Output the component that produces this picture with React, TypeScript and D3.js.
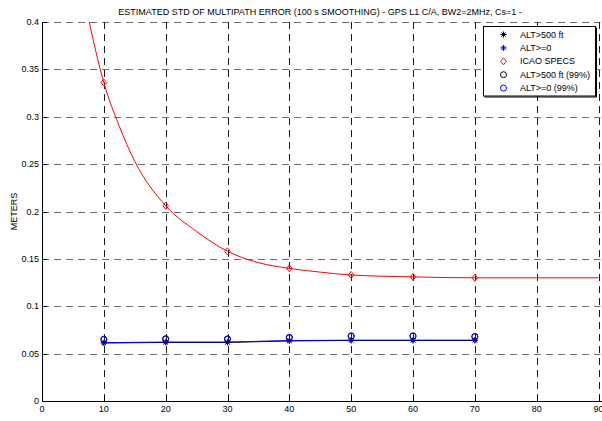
import React from "react";
import * as d3 from "d3";

const W = 602, H = 421;
const xTicks = [0, 10, 20, 30, 40, 50, 60, 70, 80, 90];
const yTicks = [0, 0.05, 0.1, 0.15, 0.2, 0.25, 0.3, 0.35, 0.4];
const yTickLabels = ["0", "0.05", "0.1", "0.15", "0.2", "0.25", "0.3", "0.35", "0.4"];

const elev = [10, 20, 30, 40, 50, 60, 70];
const icaoMarkers = [0.336, 0.206, 0.158, 0.140, 0.133, 0.131, 0.130];
// ICAO curve points
const icaoCurveX = [7.3, 10, 12.5, 15, 20, 25, 30, 35, 40, 45, 50, 60, 70, 80, 90];
const icaoCurveY = [0.41, 0.336, 0.290, 0.253, 0.206, 0.179, 0.158, 0.146, 0.140, 0.136, 0.133, 0.131, 0.130, 0.130, 0.130];
const alt500 = [0.0612, 0.0618, 0.0618, 0.0634, 0.0639, 0.0639, 0.0639];
const alt0 = [0.0616, 0.0622, 0.0622, 0.0638, 0.0642, 0.0642, 0.0642];
const alt500p99 = [0.0648, 0.0654, 0.0652, 0.0668, 0.0684, 0.0684, 0.0678];
const alt0p99 = [0.0652, 0.0658, 0.0656, 0.0672, 0.0688, 0.0688, 0.0682];

const legendItems = [
  { label: "ALT>500 ft", kind: "star", color: "#000" },
  { label: "ALT>=0", kind: "star", color: "#0000ff" },
  { label: "ICAO SPECS", kind: "diamond", color: "#ff0000" },
  { label: "ALT>500 ft (99%)", kind: "circle", color: "#000" },
  { label: "ALT>=0 (99%)", kind: "circle", color: "#0000ff" },
];

const FONT = "'Liberation Sans', Arial, sans-serif";

function Star({ x, y, color }: { x: number; y: number; color: string }) {
  const r = 3;
  const d = 2.1;
  return (
    <g stroke={color} strokeWidth={1}>
      <line x1={x - r} y1={y} x2={x + r} y2={y} />
      <line x1={x} y1={y - r} x2={x} y2={y + r} />
      <line x1={x - d} y1={y - d} x2={x + d} y2={y + d} />
      <line x1={x - d} y1={y + d} x2={x + d} y2={y - d} />
    </g>
  );
}

function Diamond({ x, y, color }: { x: number; y: number; color: string }) {
  const r = 3.5;
  return (
    <path
      d={`M${x},${y - r}L${x + r * 0.8},${y}L${x},${y + r}L${x - r * 0.8},${y}Z`}
      fill="none"
      stroke={color}
      strokeWidth={1}
    />
  );
}

function Circle({ x, y, color }: { x: number; y: number; color: string }) {
  return <circle cx={x} cy={y} r={3} fill="none" stroke={color} strokeWidth={1} />;
}

function Marker({ kind, x, y, color }: { kind: string; x: number; y: number; color: string }) {
  if (kind === "star") return <Star x={x} y={y} color={color} />;
  if (kind === "diamond") return <Diamond x={x} y={y} color={color} />;
  return <Circle x={x} y={y} color={color} />;
}

export default function App() {
  const x0 = 42, x1 = 598.5, y0 = 401, y1 = 22;
  const x = d3.scaleLinear().domain([0, 90]).range([x0, x1]);
  const y = d3.scaleLinear().domain([0, 0.4]).range([y0, y1]);

  const icaoLine = d3
    .line<number>()
    .x((_, i) => x(icaoCurveX[i]))
    .y((d) => y(d))
    .curve(d3.curveMonotoneX)(icaoCurveY) as string;

  const seriesLine = (vals: number[]) =>
    d3
      .line<number>()
      .x((_, i) => x(elev[i]))
      .y((d) => y(d))(vals) as string;

  const legX = 483.5, legY = 26.5, legW = 112, legH = 69.5;

  return (
    <svg
      width={W}
      height={H}
      style={{ position: "absolute", left: 0, top: 0, background: "#fff" }}
      fontFamily={FONT}
    >
      <defs>
        <clipPath id="plotclip">
          <rect x={x0} y={y1} width={x1 - x0 + 2} height={y0 - y1} />
        </clipPath>
      </defs>
      <rect x={0} y={0} width={W} height={H} fill="#fff" />

      {/* grid */}
      {yTicks.map((t) => (
        <line
          key={"gy" + t}
          x1={x0}
          x2={x1 + 2}
          y1={Math.round(y(t)) + 0.5}
          y2={Math.round(y(t)) + 0.5}
          stroke="#6e6e6e"
          strokeWidth={1}
          strokeDasharray="7,5"
        />
      ))}
      {xTicks.slice(1).map((t) => (
        <line
          key={"gx" + t}
          x1={Math.round(x(t)) + 0.5}
          x2={Math.round(x(t)) + 0.5}
          y1={y1}
          y2={y0}
          stroke="#1a1a1a"
          strokeWidth={1}
          strokeDasharray="7,5"
        />
      ))}

      {/* axes */}
      <line x1={x0 + 0.5} x2={x0 + 0.5} y1={y1} y2={y0 + 0.5} stroke="#000" />
      <line x1={x0} x2={W} y1={y0 + 0.5} y2={y0 + 0.5} stroke="#000" />
      {yTicks.map((t) => (
        <line
          key={"ty" + t}
          x1={x0}
          x2={x0 + 5}
          y1={Math.round(y(t)) + 0.5}
          y2={Math.round(y(t)) + 0.5}
          stroke="#000"
        />
      ))}
      {xTicks.map((t) => (
        <line
          key={"tx" + t}
          x1={Math.round(x(t)) + 0.5}
          x2={Math.round(x(t)) + 0.5}
          y1={y0}
          y2={y0 - 5}
          stroke="#000"
        />
      ))}
      {yTicks.map((t, i) => (
        <text
          key={"ly" + t}
          x={x0 - 3}
          y={y(t) + 3}
          fontSize={9}
          textAnchor="end"
          fill="#000"
        >
          {yTickLabels[i]}
        </text>
      ))}
      {xTicks.map((t) => (
        <text key={"lx" + t} x={x(t)} y={y0 + 11} fontSize={9} textAnchor="middle" fill="#000">
          {t}
        </text>
      ))}

      {/* data */}
      <g clipPath="url(#plotclip)">
        <path d={icaoLine} fill="none" stroke="#ff0000" strokeWidth={1} />
        <path d={seriesLine(alt500)} fill="none" stroke="#000" strokeWidth={1} />
        <path d={seriesLine(alt0)} fill="none" stroke="#0000ff" strokeWidth={1} />
      </g>
      {elev.map((e, i) => (
        <g key={"m" + e}>
          <Diamond x={x(e)} y={y(icaoMarkers[i])} color="#ff0000" />
          <Star x={x(e)} y={y(alt500[i])} color="#000" />
          <Star x={x(e)} y={y(alt0[i])} color="#0000ff" />
          <Circle x={x(e)} y={y(alt500p99[i])} color="#000" />
          <Circle x={x(e)} y={y(alt0p99[i])} color="#0000ff" />
        </g>
      ))}

      {/* legend */}
      <rect x={legX} y={legY} width={legW} height={legH} fill="#fff" stroke="#000" strokeWidth={1} />
      <line x1={legX + legW + 1} x2={legX + legW + 1} y1={legY + 1} y2={legY + legH + 1} stroke="#000" />
      <line x1={legX + 1} x2={legX + legW + 1} y1={legY + legH + 1} y2={legY + legH + 1} stroke="#000" />
      {legendItems.map((it, i) => {
        const ly = 34.5 + i * 13.4;
        return (
          <g key={"leg" + i}>
            <Marker kind={it.kind} x={503.5} y={ly} color={it.color} />
            <text x={520} y={ly + 3} fontSize={9} fill="#000">
              {it.label}
            </text>
          </g>
        );
      })}

      {/* titles */}
      <text x={320} y={15} fontSize={9} textAnchor="middle" fill="#000">
        ESTIMATED STD OF MULTIPATH ERROR (100 s SMOOTHING) - GPS L1 C/A, BW2=2MHz, Cs=1 -
      </text>
      <text x={320} y={427} fontSize={9} textAnchor="middle" fill="#000">
        ELEVATION IN DEGREES
      </text>
      <text
        transform={`translate(17,${(y0 + y1) / 2}) rotate(-90)`}
        fontSize={9}
        textAnchor="middle"
        fill="#000"
      >
        METERS
      </text>
    </svg>
  );
}
